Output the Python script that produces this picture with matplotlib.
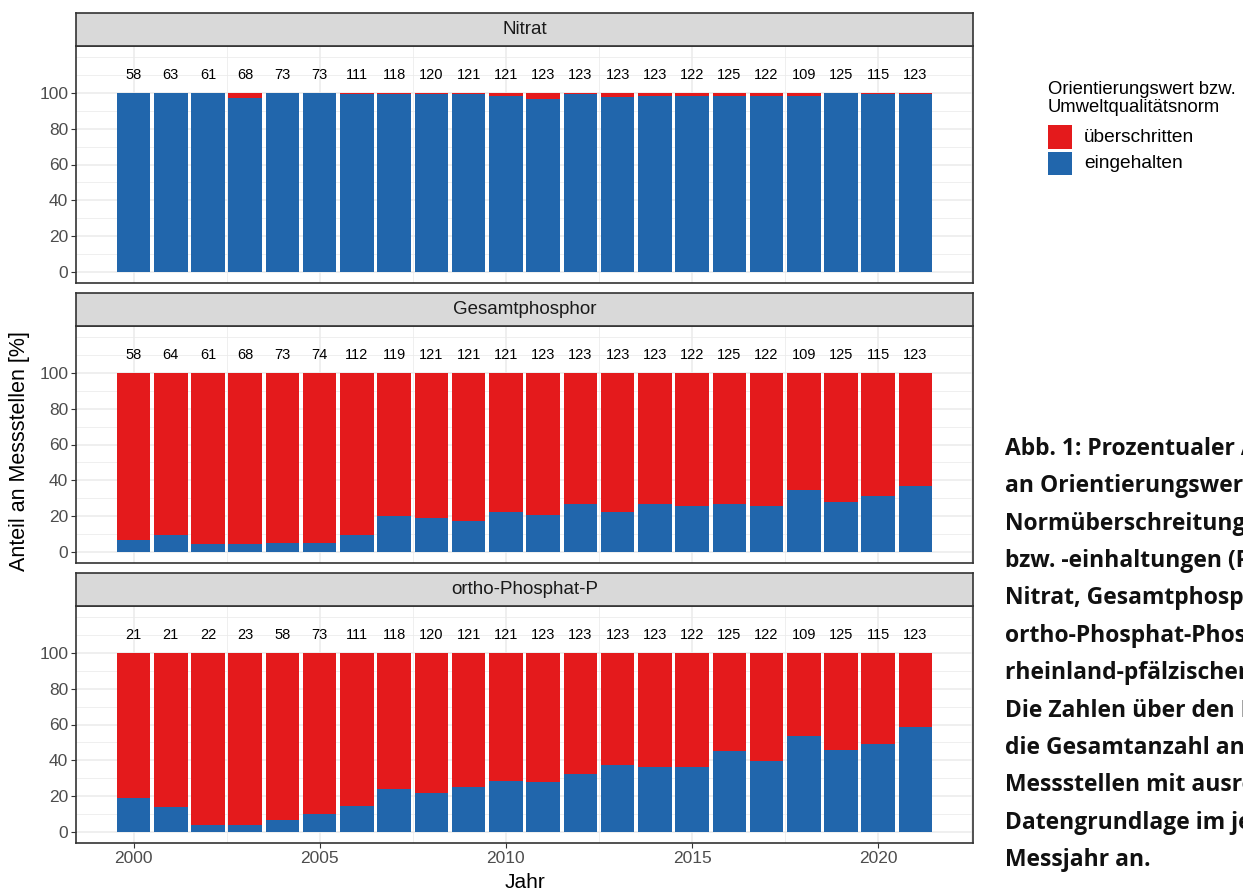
import matplotlib
matplotlib.use("Agg")
import matplotlib.pyplot as plt
from matplotlib.patches import Rectangle
from matplotlib.ticker import FixedLocator

plt.rcParams['font.family'] = ['Liberation Sans', 'DejaVu Sans']

# ---------------------------------------------------------------- data
years = list(range(2000, 2022))

parameters = ["Nitrat", "Gesamtphosphor", "ortho-Phosphat-P"]

# number of monitoring sites per year (labels above the bars)
n_nitrat = [58, 63, 61, 68, 73, 73, 111, 118, 120, 121, 121, 123,
            123, 123, 123, 122, 125, 122, 109, 125, 115, 123]
n_gesamtp = [58, 64, 61, 68, 73, 74, 112, 119, 121, 121, 121, 123,
             123, 123, 123, 122, 125, 122, 109, 125, 115, 123]
n_orthop = [21, 21, 22, 23, 58, 73, 111, 118, 120, 121, 121, 123,
            123, 123, 123, 122, 125, 122, 109, 125, 115, 123]

# share of sites meeting the target value ("eingehalten") in %
ok_nitrat = [100.0, 100.0, 100.0, 97.1, 100.0, 100.0, 99.1, 99.2, 99.2, 99.2, 98.3, 96.7,
             99.2, 97.6, 98.4, 98.4, 98.4, 98.4, 98.2, 100.0, 99.1, 99.2]
ok_gesamtp = [6.9, 9.4, 4.6, 4.4, 5.3, 5.3, 9.6, 20.1, 19.1, 17.3, 22.4, 20.9,
              26.9, 22.4, 26.9, 25.9, 26.9, 25.9, 34.6, 27.8, 31.3, 37.0]
ok_orthop = [18.8, 13.8, 4.3, 4.3, 6.7, 10.2, 14.5, 24.2, 21.6, 25.1, 28.4, 27.7,
             32.7, 37.2, 36.2, 36.2, 45.0, 39.8, 53.5, 45.7, 49.3, 58.7]

counts = [n_nitrat, n_gesamtp, n_orthop]
shares_ok = [ok_nitrat, ok_gesamtp, ok_orthop]

legend_title = ["Orientierungswert bzw.", "Umweltqualitätsnorm"]
legend_labels = ["überschritten", "eingehalten"]

caption_lines = [
    "Abb. 1: Prozentualer Anteil",
    "an Orientierungswert- bzw.",
    "Normüberschreitungen",
    "bzw. -einhaltungen (Parameter",
    "Nitrat, Gesamtphosphor und",
    "ortho-Phosphat-Phosphor) an",
    "rheinland-pfälzischen Messstellen.",
    "Die Zahlen über den Balken geben",
    "die Gesamtanzahl an",
    "Messstellen mit ausreichender",
    "Datengrundlage im jeweiligen",
    "Messjahr an.",
]

# ---------------------------------------------------------------- style
RED = "#E41A1C"
BLUE = "#2166AC"
GRID = "#EBEBEB"
BORDER = "#333333"
STRIP = "#D9D9D9"
TICKTXT = "#4D4D4D"

W, H = 1243, 893
fig = plt.figure(figsize=(W / 100, H / 100), dpi=100)
fig.patch.set_facecolor("white")

left_px, right_px = 76, 973
strip_h, panel_h = 33, 237
strip_tops = [13, 293, 573]

for i, (name, n, ok) in enumerate(zip(parameters, counts, shares_ok)):
    top = strip_tops[i]
    # panel
    ax = fig.add_axes([left_px / W, 1 - (top + strip_h + panel_h) / H,
                       (right_px - left_px) / W, panel_h / H])
    exceeded = [100 - v for v in ok]
    ax.bar(years, ok, width=0.9, color=BLUE, linewidth=0, zorder=2)
    ax.bar(years, exceeded, bottom=ok, width=0.9, color=RED, linewidth=0, zorder=2)
    for x, c in zip(years, n):
        ax.text(x, 110, str(c), ha="center", va="center", fontsize=10.5,
                color="black", zorder=3)

    ax.set_xlim(1998.455, 2022.545)
    ax.set_ylim(-6, 126)
    ax.xaxis.set_major_locator(FixedLocator([2000, 2005, 2010, 2015, 2020]))
    ax.xaxis.set_minor_locator(FixedLocator([2002.5, 2007.5, 2012.5, 2017.5, 2022.5]))
    ax.yaxis.set_major_locator(FixedLocator([0, 20, 40, 60, 80, 100]))
    ax.yaxis.set_minor_locator(FixedLocator([10, 30, 50, 70, 90, 110, 120]))
    ax.grid(which="major", color=GRID, linewidth=1.1, zorder=0)
    ax.grid(which="minor", color=GRID, linewidth=0.55, zorder=0)
    ax.set_axisbelow(True)
    ax.tick_params(which="major", length=3.5, width=0.8, color=BORDER,
                   labelsize=12.5, labelcolor=TICKTXT, pad=2)
    ax.tick_params(which="minor", length=0)
    if i < 2:
        ax.tick_params(axis="x", which="both", length=0, labelbottom=False)
    for sp in ax.spines.values():
        sp.set_color(BORDER)
        sp.set_linewidth(1.2)

    # facet strip
    sax = fig.add_axes([left_px / W, 1 - (top + strip_h) / H,
                        (right_px - left_px) / W, strip_h / H])
    sax.set_facecolor(STRIP)
    sax.set_xticks([])
    sax.set_yticks([])
    for sp in sax.spines.values():
        sp.set_color(BORDER)
        sp.set_linewidth(1.2)
    sax.text(0.5, 0.5, name, ha="center", va="center", fontsize=13.5,
             color="#1A1A1A", transform=sax.transAxes)

# axis titles
fig.text(20 / W, 1 - 451 / H, "Anteil an Messstellen [%]", rotation=90,
         ha="center", va="center", fontsize=15.5, color="black")
fig.text((left_px + right_px) / 2 / W, 1 - 882 / H, "Jahr",
         ha="center", va="center", fontsize=15, color="black")

# legend
fig.text(1048 / W, 1 - 94 / H, legend_title[0], ha="left", va="baseline",
         fontsize=13.3, color="black")
fig.text(1048 / W, 1 - 111.5 / H, legend_title[1], ha="left", va="baseline",
         fontsize=13.3, color="black")
key_tops = [125, 151.5]
for col, lab, kt in zip([RED, BLUE], legend_labels, key_tops):
    fig.add_artist(Rectangle((1048 / W, 1 - (kt + 23.5) / H), 24 / W, 23.5 / H,
                             transform=fig.transFigure, facecolor=col,
                             edgecolor="none"))
    fig.text(1084 / W, 1 - (kt + 12.5) / H, lab, ha="left", va="center",
             fontsize=13.8, color="black")

# figure caption on the right
for k, line in enumerate(caption_lines):
    fig.text(1005 / W, 1 - (455 + k * 37.36) / H, line, ha="left", va="baseline",
             fontsize=16.5, fontweight="bold", family=["Open Sans", "DejaVu Sans"],
             color="#111111")

fig.savefig("out.png", dpi=100, facecolor="white")
